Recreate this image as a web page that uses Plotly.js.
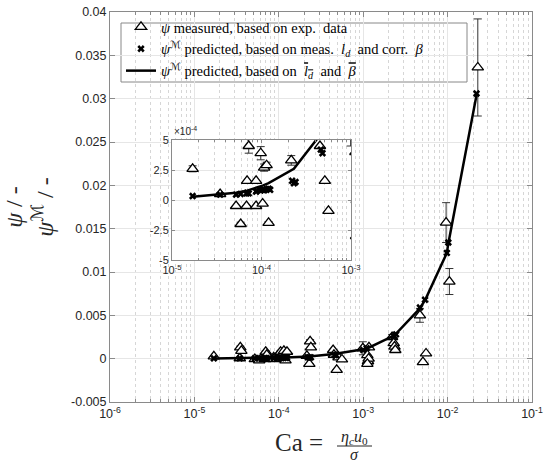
<!DOCTYPE html>
<html>
<head>
<meta charset="utf-8">
<script src="https://cdn.plot.ly/plotly-3.0.1.min.js"></script>
<style>html,body{margin:0;padding:0;background:#fff;}#chart{width:550px;height:465px;}</style>
</head>
<body>
<div id="chart"></div>
<script>
// measured psi (triangles) with error bars
const measCa  = [1.7e-5, 3.45e-5, 3.5e-5, 3.6e-5, 5.2e-5, 5.85e-5, 6.8e-5, 6.9e-5, 7.0e-5, 7.2e-5,
                 8.7e-5, 8.7e-5, 9.8e-5, 1.03e-4, 1.05e-4, 1.07e-4, 1.14e-4, 1.15e-4, 1.2e-4, 1.25e-4,
                 2.15e-4, 2.35e-4, 2.4e-4, 2.3e-4, 4.4e-4, 4.5e-4, 4.85e-4, 5.1e-4, 5.6e-4, 9.9e-4,
                 1.12e-3, 1.14e-3, 1.16e-3, 1.12e-3, 1.17e-3, 2.2e-3, 2.3e-3, 2.35e-3, 2.4e-3, 4.7e-3,
                 5.1e-3, 5.55e-3, 9.6e-3, 1.05e-2, 2.28e-2];
const measPsi = [2.6e-4, 0.5e-4, 1.3e-3, 0.9e-3, -0.5e-4, -2.0e-4, -0.5e-4, 1.6e-4, 0.8e-3, 4.5e-4,
                 1.6e-4, -0.5e-4, 3.9e-4, -0.3e-4, 0.8e-3, 2.7e-4, 2.9e-4, 0.9e-3, -1.9e-4, 0.8e-3,
                 3.3e-4, 2.0e-3, 1.3e-3, -0.6e-3, 1.0e-3, 4.5e-4, -1.3e-3, 1.6e-4, -0.9e-4, 1.2e-3,
                 0.4e-3, -0.3e-3, 0.0, -0.6e-3, 1.3e-3, 2.5e-3, 1.8e-3, 1.4e-3, 1.0e-3, 5.0e-3,
                 -0.4e-3, 0.6e-3, 15.7e-3, 8.9e-3, 33.6e-3];
const measErr = [0.25e-4, 0.1e-4, 0.15e-3, 0.1e-3, 0, 0.15e-4, 0, 0, 0.1e-3, 0.6e-4,
                 0, 0, 0.55e-4, 0, 0.1e-3, 0.3e-4, 0.25e-4, 0.1e-3, 0.1e-4, 0,
                 0.4e-4, 0.2e-3, 0.1e-3, 0, 0, 0, 0, 0, 0, 0.75e-3,
                 0, 0, 0, 0, 0, 0.3e-3, 0, 0, 0, 0.8e-3,
                 0, 0, 2.3e-3, 1.5e-3, 5.6e-3];

// predicted psi^M from measured l_d and corrected beta (crosses)
const predCa  = [1.7e-5, 3.45e-5, 5.2e-5, 5.85e-5, 6.8e-5, 6.9e-5, 7.2e-5, 8.7e-5, 8.8e-5, 9.8e-5,
                 1.03e-4, 1.07e-4, 1.14e-4, 1.2e-4, 1.25e-4, 2.2e-4, 2.3e-4, 2.4e-4, 4.6e-4, 4.8e-4,
                 1.0e-3, 1.1e-3, 2.3e-3, 2.45e-3, 4.7e-3, 5.4e-3, 9.8e-3, 1.02e-2, 2.2e-2];
const predPsi = [0.33e-4, 0.45e-4, 0.45e-4, 0.5e-4, 0.55e-4, 0.6e-4, 0.55e-4, 0.7e-4, 0.75e-4, 0.8e-4,
                 0.85e-4, 0.8e-4, 0.9e-4, 0.95e-4, 0.85e-4, 1.6e-4, 1.4e-4, 1.5e-4, 4.2e-4, 3.9e-4,
                 1.0e-3, 1.2e-3, 2.6e-3, 2.8e-3, 5.9e-3, 6.8e-3, 12.2e-3, 13.4e-3, 30.6e-3];

// predicted psi^M from mean l_d and mean beta (line)
const lineCa  = [1.7e-5, 3.45e-5, 5.2e-5, 6.9e-5, 8.7e-5, 1.03e-4, 1.2e-4, 2.3e-4, 4.5e-4, 1.1e-3,
                 2.35e-3, 4.7e-3, 5.5e-3, 9.8e-3, 1.02e-2, 2.22e-2];
const linePsi = [0.28e-4, 0.47e-4, 0.6e-4, 0.78e-4, 1.0e-4, 1.2e-4, 1.4e-4, 2.6e-4, 5.4e-4, 1.15e-3,
                 2.7e-3, 5.8e-3, 6.9e-3, 12.2e-3, 13.3e-3, 30.6e-3];

// tick labels
const mainYTicks  = [-0.005, 0, 0.005, 0.01, 0.015, 0.02, 0.025, 0.03, 0.035, 0.04];
const mainYLabels = ['-0.005', '0', '0.005', '0.01', '0.015', '0.02', '0.025', '0.03', '0.035', '0.04'];
const mainXTicks  = [1e-6, 1e-5, 1e-4, 1e-3, 1e-2, 1e-1];
const mainXLabels = ['10<sup>-6</sup>', '10<sup>-5</sup>', '10<sup>-4</sup>', '10<sup>-3</sup>', '10<sup>-2</sup>', '10<sup>-1</sup>'];
const insetYTicks  = [-5e-4, -2.5e-4, 0, 2.5e-4, 5e-4];
const insetYLabels = ['-5', '-2.5', '0', '2.5', '5'];
const insetXTicks  = [1e-5, 1e-4, 1e-3];
const insetXLabels = ['10<sup>-5</sup>', '10<sup>-4</sup>', '10<sup>-3</sup>'];

const serif = 'Liberation Serif, DejaVu Serif, serif';
const sans = 'Liberation Sans, Arial, sans-serif';
const calM = '<span style="font-family:DejaVu Sans">ℳ</span>';

function measTrace(xa, ya, show) {
  return {
    x: measCa, y: measPsi, xaxis: xa, yaxis: ya, type: 'scatter', mode: 'markers',
    name: '<i>ψ</i> measured, based on exp.  data', showlegend: show, legendrank: 1,
    marker: {symbol: 'triangle-up', size: 10, color: '#fff', line: {color: '#000', width: 1.3}},
    error_y: {type: 'data', array: measErr, visible: true, color: '#333', thickness: 1, width: 4}
  };
}
function predTrace(xa, ya, show) {
  return {
    x: predCa, y: predPsi, xaxis: xa, yaxis: ya, type: 'scatter', mode: 'markers',
    name: '<i>ψ</i><sup>' + calM + '</sup> predicted, based on meas.  <i>l<sub>d</sub></i>  and corr.  <i>β</i>',
    showlegend: show, legendrank: 2,
    marker: {symbol: 'x', size: 6.5, color: '#000', line: {width: 0}}
  };
}
function lineTrace(xa, ya, show) {
  return {
    x: lineCa, y: linePsi, xaxis: xa, yaxis: ya, type: 'scatter', mode: 'lines',
    name: '<i>ψ</i><sup>' + calM + '</sup> predicted, based on  <span style="text-decoration:overline"><i>l<sub>d</sub></i></span>  and  <span style="text-decoration:overline"><i>β</i></span>',
    showlegend: show, legendrank: 3,
    line: {color: '#000', width: 2.5}
  };
}

const traces = [
  measTrace('x', 'y', true), predTrace('x', 'y', true), lineTrace('x', 'y', true),
  measTrace('x2', 'y2', false), predTrace('x2', 'y2', false), lineTrace('x2', 'y2', false)
];

const axCommon = {
  showline: true, linecolor: '#8a8a8a', linewidth: 1, mirror: 'ticks',
  ticks: 'inside', tickcolor: '#8a8a8a', zeroline: false,
  gridcolor: '#e6e6e6', gridwidth: 1,
  tickfont: {family: sans, color: '#262626'}
};

const layout = {
  width: 550, height: 465,
  margin: {l: 0, r: 0, t: 0, b: 0},
  paper_bgcolor: '#fff', plot_bgcolor: '#fff',
  showlegend: true,
  legend: {
    x: 121 / 550, y: 1 - 11 / 465, xanchor: 'left', yanchor: 'top',
    bgcolor: 'rgba(0,0,0,0)', borderwidth: 0,
    font: {family: serif, size: 14.5, color: '#000'},
    tracegroupgap: 0, itemwidth: 30, traceorder: 'normal'
  },
  xaxis: Object.assign({}, axCommon, {
    type: 'log', range: [-6, -1], domain: [110 / 550, 532 / 550], anchor: 'y',
    tickvals: mainXTicks, ticktext: mainXLabels, ticklen: 5, tickfont: {family: sans, size: 12.5, color: '#262626'},
    minor: {dtick: 'D1', showgrid: true, gridcolor: '#d6d6d6', griddash: 'dot', ticks: 'inside', ticklen: 3, tickcolor: '#8a8a8a'}
  }),
  yaxis: Object.assign({}, axCommon, {
    range: [-0.005, 0.04], domain: [1 - 402 / 465, 1 - 12 / 465], anchor: 'x',
    tickvals: mainYTicks, ticktext: mainYLabels, ticklen: 5, tickfont: {family: sans, size: 12.5, color: '#262626'},
    title: {text: '<i>ψ</i> / -<br><i>ψ</i><sup>' + calM + '</sup> / -', font: {family: serif, size: 24, color: '#262626'}, standoff: 10}
  }),
  xaxis2: Object.assign({}, axCommon, {
    type: 'log', range: [-5, -3], domain: [172 / 550, 351 / 550], anchor: 'y2',
    tickvals: insetXTicks, ticktext: insetXLabels, ticklen: 3, tickfont: {family: sans, size: 11, color: '#262626'},
    minor: {dtick: 'D1', showgrid: true, gridcolor: '#d6d6d6', griddash: 'dot', ticks: 'inside', ticklen: 2, tickcolor: '#8a8a8a'}
  }),
  yaxis2: Object.assign({}, axCommon, {
    range: [-5e-4, 5e-4], domain: [1 - 260 / 465, 1 - 140 / 465], anchor: 'x2',
    tickvals: insetYTicks, ticktext: insetYLabels, ticklen: 3, tickfont: {family: sans, size: 11, color: '#262626'}
  }),
  annotations: [
    {xref: 'paper', yref: 'paper', x: 172 / 550, y: 1 - 131 / 465, xanchor: 'left', yanchor: 'middle',
     text: '×10<sup>-4</sup>', showarrow: false, font: {family: sans, size: 10, color: '#262626'}},
    {xref: 'paper', yref: 'paper', x: 331 / 550, y: 1 - 442 / 465, xanchor: 'right', yanchor: 'middle',
     text: 'Ca = ', showarrow: false, font: {family: serif, size: 25, color: '#262626'}},
    {xref: 'paper', yref: 'paper', x: 354 / 550, y: 1 - 437 / 465, xanchor: 'center', yanchor: 'middle',
     text: '<i>η<sub>c</sub>u</i><sub>0</sub>', showarrow: false, font: {family: serif, size: 16, color: '#262626'}},
    {xref: 'paper', yref: 'paper', x: 354 / 550, y: 1 - 454 / 465, xanchor: 'center', yanchor: 'middle',
     text: '<i>σ</i>', showarrow: false, font: {family: serif, size: 16, color: '#262626'}}
  ],
  shapes: [
    {type: 'line', xref: 'paper', yref: 'paper', x0: 337 / 550, x1: 372 / 550, y0: 1 - 446 / 465, y1: 1 - 446 / 465,
     line: {color: '#262626', width: 1}},
    // legend box (white, above grid, below data)
    {type: 'rect', xref: 'x domain', yref: 'y domain', layer: 'below',
     x0: (121 - 110) / 422, x1: (467 - 110) / 422, y0: (402 - 82) / 390, y1: (402 - 23) / 390,
     fillcolor: '#fff', line: {color: '#888', width: 1}}
  ]
};

Plotly.newPlot('chart', traces, layout, {displayModeBar: false, staticPlot: true});
</script>
</body>
</html>
